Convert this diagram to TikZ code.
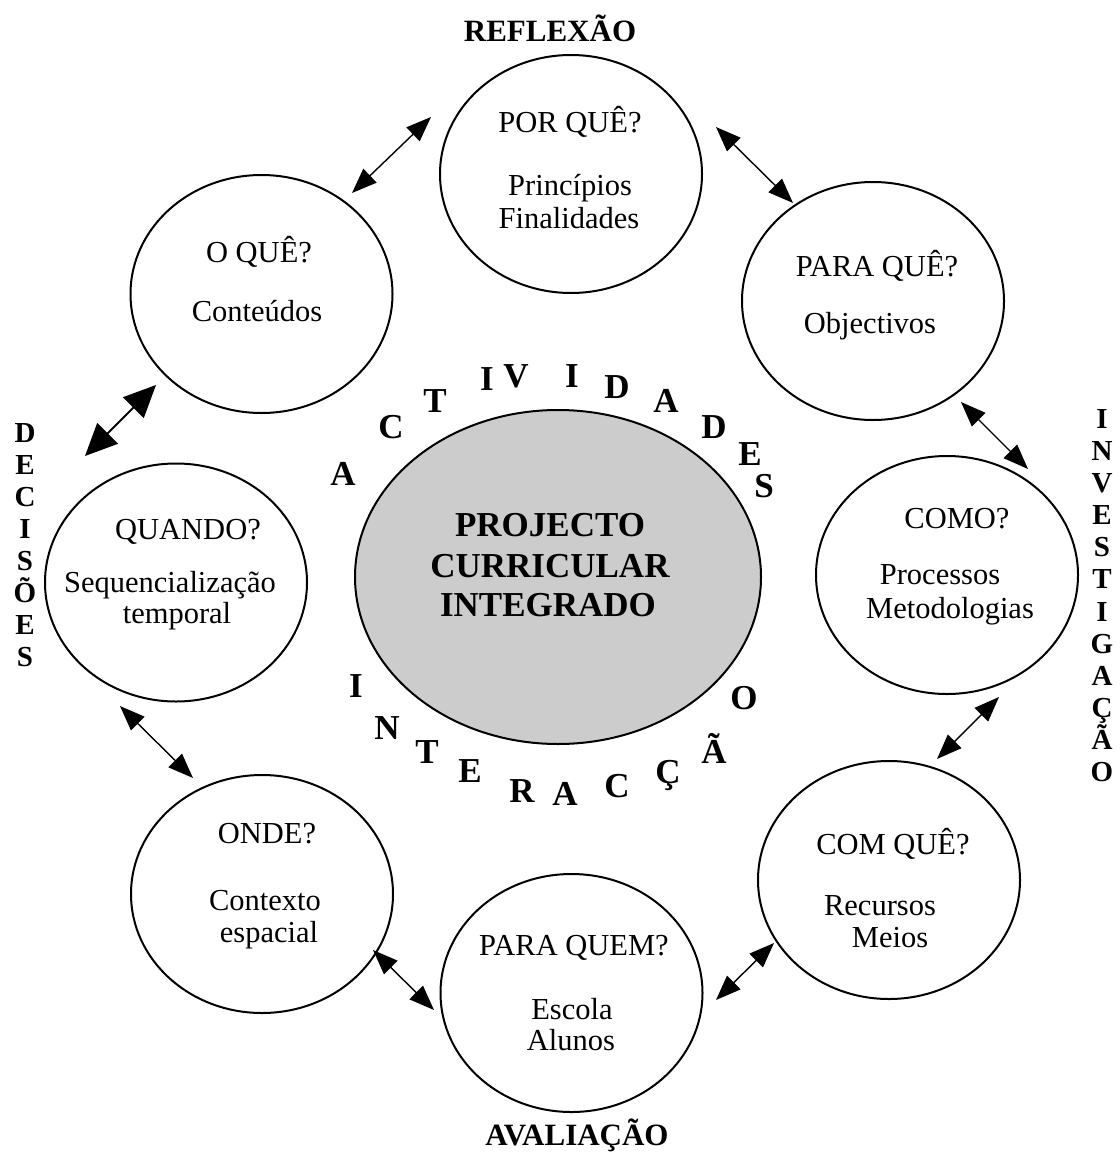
\documentclass[tikz,border=0pt]{standalone}
\usepackage{fontspec}
\setmainfont{Liberation Serif}
\usetikzlibrary{shapes.geometric,arrows.meta}

\begin{document}
\begin{tikzpicture}[x=1pt,y=-1pt,
  question/.style={ellipse,draw,line width=2pt,minimum width=262pt,minimum height=238pt,inner sep=0pt},
  core/.style={ellipse,draw,line width=2pt,fill=black!20,minimum width=406pt,minimum height=334pt,inner sep=0pt},
  txt/.style={anchor=base,inner sep=0pt,font=\fontsize{30.5}{32}\selectfont},
  coretxt/.style={anchor=base,inner sep=0pt,font=\fontsize{35}{40}\selectfont\bfseries},
  ring/.style={anchor=base,inner sep=0pt,font=\fontsize{35}{35}\selectfont\bfseries},
  side/.style={anchor=base,inner sep=0pt,font=\fontsize{29}{29}\selectfont\bfseries},
  theme/.style={anchor=base,inner sep=0pt,font=\fontsize{31}{31}\selectfont\bfseries},
  link/.style={line width=1.4pt,{Triangle[length=25pt,width=19pt]}-{Triangle[length=25pt,width=19pt]}},
  biglink/.style={line width=1.9pt,{Triangle[length=32pt,width=29pt]}-{Triangle[length=32pt,width=29pt]}},
]
\useasboundingbox (0,0) rectangle (1119,1156);

% the eight question circles
\node[question] (porque)   at (571,174) {};
\node[question] (paraque)  at (873,301) {};
\node[question] (como)     at (947,575) {};
\node[question] (comque)   at (889,880) {};
\node[question] (paraquem) at (571.5,993) {};
\node[question] (onde)     at (262,894) {};
\node[question] (quando)   at (176,582.5) {};
\node[question] (oque)     at (261.5,294) {};

% central shaded ellipse
\node[core] (pci) at (558,577) {};
\node[coretxt] (pci1) at (550,536) {PROJECTO};
\node[coretxt] (pci2) at (550,577) {CURRICULAR};
\node[coretxt] (pci3) at (548,616) {INTEGRADO};

% texts inside the circles
\node[txt] (porque-q)  at (570,132) {POR QUÊ?};
\node[txt] (porque-a)  at (570,195) {Princípios};
\node[txt] (porque-b)  at (569,228) {Finalidades};

\node[txt] (paraque-q) at (877,276) {PARA QUÊ?};
\node[txt] (paraque-a) at (870,333) {Objectivos};

\node[txt] (como-q)    at (957,528) {COMO?};
\node[txt] (como-a)    at (940,584) {Processos};
\node[txt] (como-b)    at (950,618) {Metodologias};

\node[txt] (comque-q)  at (893,854) {COM QUÊ?};
\node[txt] (comque-a)  at (880,915) {Recursos};
\node[txt] (comque-b)  at (890,947) {Meios};

\node[txt] (paraquem-q) at (574,955) {PARA QUEM?};
\node[txt] (paraquem-a) at (572,1019) {Escola};
\node[txt] (paraquem-b) at (571,1050) {Alunos};

\node[txt] (onde-q)    at (267,843) {ONDE?};
\node[txt] (onde-a)    at (265,910) {Contexto};
\node[txt] (onde-b)    at (269,942) {espacial};

\node[txt] (quando-q)  at (188,539) {QUANDO?};
\node[txt] (quando-a)  at (170,592) {Sequencialização};
\node[txt] (quando-b)  at (177,623) {temporal};

\node[txt] (oque-q)    at (259,262) {O QUÊ?};
\node[txt] (oque-a)    at (257,321) {Conteúdos};

% dimension labels
\node[theme] (reflexao)  at (550,42) {REFLEXÃO};
\node[theme] (avaliacao) at (577,1145) {AVALIAÇÃO};
\foreach \l [count=\i from 0] in {D,E,C,I,S,Õ,E,S}
  \node[side] (dec\i) at (25,442+32.14*\i) {\l};
\foreach \l [count=\i from 0] in {I,N,V,E,S,T,I,G,A,Ç,Ã,O}
  \node[side] (inv\i) at (1102,428+32.18*\i) {\l};

% letters set around the central ellipse
\foreach \l/\x/\y [count=\i] in {A/343/485, C/391/438, T/435/412, I/487/390, V/516/387,
    I/572/387, D/617/398, A/666/412, D/714/438, E/750/465, S/764/497}
  \node[ring] (act\i) at (\x,\y) {\l};
\foreach \l/\x/\y [count=\i] in {I/356/697, N/387/739, T/427/763, E/470/782, R/522/802,
    A/565/805, C/617/797, Ç/668/783, Ã/714/763, O/744/709}
  \node[ring] (int\i) at (\x,\y) {\l};

% arrow ends between neighbouring circles
\coordinate (porque-w)   at (431,117);
\coordinate (oque-ne)    at (352,193);
\coordinate (porque-e)   at (716,127);
\coordinate (paraque-nw) at (793,203);
\coordinate (paraque-s)  at (961,402);
\coordinate (como-n)     at (1028,469);
\coordinate (como-s)     at (999,697);
\coordinate (comque-n)   at (937,759);
\coordinate (comque-sw)  at (774,943);
\coordinate (paraquem-e) at (716,1000);
\coordinate (paraquem-w) at (434,1010);
\coordinate (onde-se)    at (373,950);
\coordinate (onde-nw)    at (193,778);
\coordinate (quando-s)   at (120,706);
\coordinate (quando-n)   at (85,456);
\coordinate (oque-sw)    at (156,385);

\draw[link] (porque-w) -- (oque-ne);
\draw[link] (porque-e) -- (paraque-nw);
\draw[link] (paraque-s) -- (como-n);
\draw[link] (como-s) -- (comque-n);
\draw[link] (comque-sw) -- (paraquem-e);
\draw[link] (paraquem-w) -- (onde-se);
\draw[link] (onde-nw) -- (quando-s);
\draw[biglink] (quando-n) -- (oque-sw);

\end{tikzpicture}
\end{document}
